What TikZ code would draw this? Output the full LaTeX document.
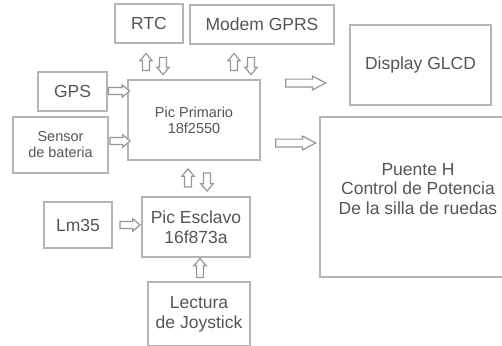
\documentclass[tikz,border=0pt]{standalone}
\usepackage{fontspec}
\setmainfont{Liberation Sans}
\usetikzlibrary{shapes.arrows}
\definecolor{boxgray}{HTML}{B4B4B4}
\definecolor{arrgray}{HTML}{969696}
\definecolor{txtgray}{HTML}{555555}
\begin{document}
\begin{tikzpicture}[x=1pt,y=-1pt,
  box/.style={draw=boxgray, line width=1.7pt, rectangle, inner sep=0pt, align=center, text=txtgray,
    font=\fontsize{17.5}{20}\selectfont},
  smallfont/.style={font=\fontsize{14.5}{16}\selectfont},
  txt/.style={text=txtgray, align=center, inner sep=0pt, font=\fontsize{17.5}{19.5}\selectfont},
  barrow/.style={single arrow, draw=arrgray, line width=1.2pt, fill=white, inner sep=0pt, inner ysep=2.9pt,
    single arrow head extend=2.7pt, single arrow tip angle=80, minimum height=#1, anchor=center},
  bigarrow/.style={single arrow, draw=arrgray, line width=1.2pt, fill=white, inner sep=0pt, inner ysep=3.3pt,
    single arrow head extend=3pt, single arrow tip angle=55, minimum height=#1, anchor=center}
]
\useasboundingbox (0,0) rectangle (502,345);
\clip (0,0) rectangle (502,345);

% boxes
\node[box, minimum width=68pt, minimum height=39pt] (rtc) at (149,23.5) {RTC};
\node[box, minimum width=144pt, minimum height=39pt] (modem) at (262,24.5) {Modem GPRS};
\node[box, minimum width=69pt, minimum height=39pt] (gps) at (72.5,91.5) {GPS};
\node[box, smallfont, minimum width=95pt, minimum height=56pt] (sensor) at (60.5,145) {Sensor\\de bateria};
\node[box, smallfont, minimum width=132pt, minimum height=80pt] (prim) at (194,120) {Pic Primario\\18f2550};
\node[box, minimum width=141pt, minimum height=80pt] (disp) at (420.5,65) {Display GLCD};
\node[box, minimum width=196pt, minimum height=160pt] (puente) at (418,197) {};
\node[txt] (puentetxt) at (418,189) {Puente H\\Control de Potencia\\De la silla de ruedas};
\node[box, minimum width=108pt, minimum height=60pt] (escl) at (196,227) {Pic Esclavo\\16f873a};
\node[box, minimum width=68pt, minimum height=46pt] (lm) at (78,225) {Lm35};
\node[box, minimum width=102pt, minimum height=64pt] (joy) at (199,314) {Lectura\\de Joystick};

% block arrows
\node[barrow=17pt, rotate=90] (rtcup) at (146,64) {};
\node[barrow=17pt, rotate=-90] (rtcdn) at (163,64) {};
\node[barrow=17pt, rotate=90] (modup) at (234,64) {};
\node[barrow=17pt, rotate=-90] (moddn) at (251,64) {};
\node[barrow=21pt] (gpsar) at (117,91) {};
\node[barrow=20pt] (sensar) at (118,141) {};
\node[bigarrow=40pt] (disar) at (302,83) {};
\node[bigarrow=40pt] (puenar) at (292,143) {};
\node[barrow=18pt, rotate=90] (pup) at (188,180) {};
\node[barrow=18pt, rotate=-90] (pdn) at (207,180) {};
\node[barrow=20pt] (lmar) at (128,225) {};
\node[barrow=19pt, rotate=90] (joyar) at (200,270) {};
\end{tikzpicture}
\end{document}
